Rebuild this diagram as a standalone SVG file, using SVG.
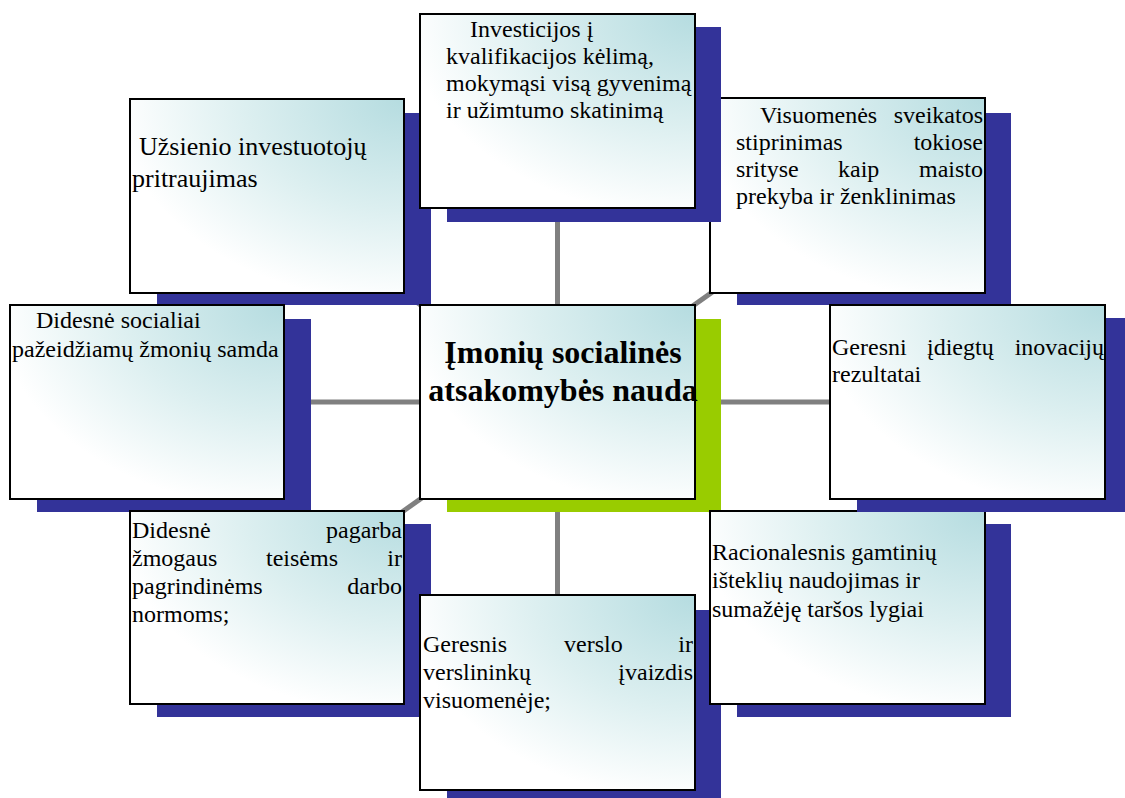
<svg xmlns="http://www.w3.org/2000/svg" width="1125" height="798" viewBox="0 0 1125 798">
<defs>
<radialGradient id="fill" cx="1" cy="0" r="1.05" fx="1" fy="0">
<stop offset="0" stop-color="#b5dce0"/>
<stop offset="0.55" stop-color="#dcefF0"/>
<stop offset="1" stop-color="#ffffff"/>
</radialGradient>
</defs>
<style>
.sh{fill:#333399}
.shg{fill:#99cc00}
.box{fill:url(#fill);stroke:#000;stroke-width:2}
.t{font-family:"Liberation Serif","Times New Roman",serif;font-size:24px;fill:#000}
.t26{font-size:26px}
.b{font-family:"Liberation Serif","Times New Roman",serif;font-size:32px;font-weight:bold;fill:#000}
.e{text-anchor:end}
.con line{stroke:#808080;stroke-width:5}
</style>
<rect width="1125" height="798" fill="#fff"/>
<g id="connectors" class="con">
<line x1="557.5" y1="402" x2="557.5" y2="111"/>
<line x1="557.5" y1="402" x2="557.5" y2="692"/>
<line x1="557.5" y1="402" x2="147" y2="402"/>
<line x1="557.5" y1="402" x2="967.5" y2="402"/>
<line x1="557.5" y1="402" x2="267" y2="196"/>
<line x1="557.5" y1="402" x2="847.5" y2="196"/>
<line x1="557.5" y1="402" x2="267" y2="607.5"/>
<line x1="557.5" y1="402" x2="847.5" y2="607.5"/>
</g>
<g id="node-uzsienio">
<rect class="sh" x="157" y="113" width="274" height="192"/>
<rect class="box" x="130" y="99" width="274" height="194"/>
<text class="t t26" x="139" y="155">Užsienio investuotojų</text>
<text class="t t26" x="132" y="187">pritraujimas</text>
</g>
<g id="node-visuomenes">
<rect class="sh" x="737" y="113" width="274" height="192"/>
<rect class="box" x="710" y="98" width="275" height="195"/>
<text class="t" x="760" y="123">Visuomenės</text>
<text class="t e" x="983" y="123">sveikatos</text>
<text class="t" x="736" y="150">stiprinimas</text>
<text class="t e" x="983" y="150">tokiose</text>
<text class="t" x="736" y="177">srityse</text>
<text class="t" x="838" y="177">kaip</text>
<text class="t e" x="983" y="177">maisto</text>
<text class="t" x="736" y="204">prekyba ir ženklinimas</text>
</g>
<g id="node-investicijos">
<rect class="sh" x="447" y="27" width="274" height="195"/>
<rect class="box" x="420" y="14" width="275" height="194"/>
<text class="t" x="470" y="37">Investicijos į</text>
<text class="t" x="446" y="64">kvalifikacijos kėlimą,</text>
<text class="t" x="446" y="91">mokymąsi visą gyvenimą</text>
<text class="t" x="446" y="118">ir užimtumo skatinimą</text>
</g>
<g id="node-socialiai">
<rect class="sh" x="37" y="319" width="274" height="193"/>
<rect class="box" x="10" y="305" width="274" height="194"/>
<text class="t" x="36" y="328">Didesnė socialiai</text>
<text class="t" x="12" y="357">pažeidžiamų žmonių samda</text>
</g>
<g id="node-pagarba">
<rect class="sh" x="157" y="524" width="274" height="193"/>
<rect class="box" x="130" y="511" width="274" height="193"/>
<text class="t" x="132" y="538">Didesnė</text>
<text class="t e" x="402" y="538">pagarba</text>
<text class="t" x="132" y="566">žmogaus</text>
<text class="t" x="266" y="566">teisėms</text>
<text class="t e" x="402" y="566">ir</text>
<text class="t" x="132" y="594">pagrindinėms</text>
<text class="t e" x="402" y="594">darbo</text>
<text class="t" x="132" y="622">normoms;</text>
</g>
<g id="node-center">
<rect class="shg" x="447" y="319" width="274" height="193"/>
<rect class="box" x="420" y="305" width="275" height="194"/>
<text class="b" x="563" y="363" text-anchor="middle">Įmonių socialinės</text>
<text class="b" x="563" y="401" text-anchor="middle">atsakomybės nauda</text>
</g>
<g id="node-verslo">
<rect class="sh" x="447" y="610" width="274" height="188"/>
<rect class="box" x="420" y="595" width="275" height="195"/>
<text class="t" x="423" y="652">Geresnis</text>
<text class="t" x="564" y="652">verslo</text>
<text class="t e" x="693" y="652">ir</text>
<text class="t" x="423" y="680">verslininkų</text>
<text class="t e" x="693" y="680">įvaizdis</text>
<text class="t" x="423" y="708">visuomenėje;</text>
</g>
<g id="node-racionalesnis">
<rect class="sh" x="737" y="524" width="274" height="193"/>
<rect class="box" x="710" y="511" width="275" height="193"/>
<text class="t" x="712" y="560">Racionalesnis gamtinių</text>
<text class="t" x="712" y="588">išteklių naudojimas ir</text>
<text class="t" x="712" y="617">sumažėję taršos lygiai</text>
</g>
<g id="node-inovaciju">
<rect class="sh" x="857" y="318" width="268" height="194"/>
<rect class="box" x="830" y="305" width="275" height="194"/>
<text class="t" x="832" y="355">Geresni</text>
<text class="t" x="927" y="355">įdiegtų</text>
<text class="t e" x="1104" y="355">inovacijų</text>
<text class="t" x="832" y="382">rezultatai</text>
</g>
</svg>
